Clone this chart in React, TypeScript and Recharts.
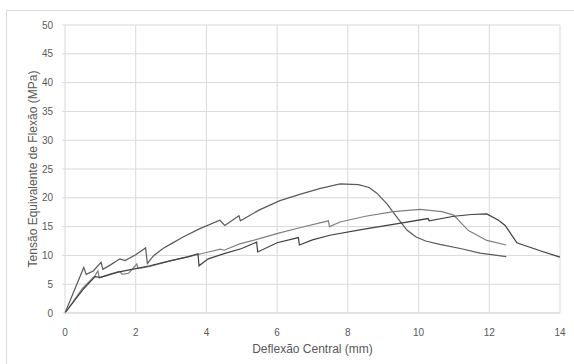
import { LineChart, Line, XAxis, YAxis, CartesianGrid } from "recharts";

// curve 1: highest peak (~22.5 MPa at 8 mm)
const xA = [0, 0.53, 0.6, 0.8, 1.02, 1.07, 1.3, 1.55, 1.7, 2.0, 2.28, 2.33, 2.5, 2.77, 3.0, 3.34, 3.8, 4.38, 4.52, 4.92, 4.96, 5.5, 6.08, 6.64, 7.2, 7.78, 8.3, 8.6, 8.82, 9.1, 9.38, 9.67, 9.93, 10.2, 10.6, 11.18, 11.74, 12.48];
const yA = [0, 7.9, 6.7, 7.3, 8.8, 7.6, 8.4, 9.4, 9.1, 10.1, 11.3, 8.6, 9.9, 11.2, 12.0, 13.2, 14.6, 16.1, 15.2, 16.9, 16.0, 17.9, 19.5, 20.6, 21.6, 22.4, 22.3, 21.8, 20.8, 19.0, 16.7, 14.4, 13.2, 12.5, 11.9, 11.2, 10.4, 9.8];

// curve 2: peak ~18 MPa at 10 mm
const xB = [0, 0.5, 0.85, 0.93, 0.97, 1.3, 1.55, 1.62, 1.8, 2.03, 2.07, 2.4, 3.0, 3.5, 4.0, 4.4, 4.5, 4.94, 5.5, 6.07, 6.64, 7.45, 7.48, 7.78, 8.5, 9.29, 10.04, 10.66, 10.99, 11.41, 11.93, 12.48];
const yB = [0, 4.3, 6.5, 7.3, 6.1, 6.8, 7.2, 6.7, 6.9, 8.5, 7.7, 8.1, 9.1, 9.8, 10.5, 11.1, 10.9, 12.0, 12.9, 13.9, 14.8, 16.0, 15.0, 15.8, 16.8, 17.6, 18.0, 17.6, 17.0, 14.3, 12.6, 11.8];

// curve 3: longest, up to 14 mm
const xC = [0, 0.5, 0.85, 1.0, 1.5, 2.0, 2.4, 3.0, 3.5, 3.76, 3.79, 4.05, 4.5, 5.0, 5.42, 5.45, 6.0, 6.6, 6.63, 7.0, 7.49, 8.5, 9.5, 10.27, 10.3, 11.0, 11.5, 11.93, 12.26, 12.45, 12.78, 12.92, 13.44, 14.0];
const yC = [0, 4.0, 6.3, 6.2, 7.1, 7.7, 8.2, 9.1, 9.8, 10.3, 8.2, 9.4, 10.3, 11.2, 12.3, 10.6, 12.2, 13.1, 11.8, 12.7, 13.5, 14.6, 15.6, 16.4, 16.0, 16.8, 17.1, 17.2, 16.1, 15.2, 12.2, 11.9, 10.8, 9.7];

const xTicks = [0, 2, 4, 6, 8, 10, 12, 14];
const yTicks = [0, 5, 10, 15, 20, 25, 30, 35, 40, 45, 50];

const toPts = (xs: number[], ys: number[]) => xs.map((x, i) => ({ x, y: ys[i] }));

const font = "'Liberation Sans', Arial, sans-serif";
const tickStyle = { fill: "#595959", fontSize: 10, fontFamily: font };

export default function App() {
  return (
    <div style={{ position: "absolute", left: 0, top: 0, width: 574, height: 364, background: "#fff" }}>
      <div style={{ position: "absolute", left: 6, top: 10, width: 570, height: 360, border: "1px solid #d9d9d9" }} />
      <LineChart width={574} height={364} margin={{ top: 25, right: 14, left: 0, bottom: 6 }} style={{ position: "absolute", left: 0, top: 0 }}>
        <CartesianGrid stroke="#d9d9d9" />
        <XAxis
          dataKey="x"
          type="number"
          domain={[0, 14]}
          ticks={xTicks}
          height={45}
          stroke="#d9d9d9"
          tickLine={false}
          tickMargin={10}
          tick={tickStyle}
          label={{ value: "Deflexão Central (mm)", position: "insideBottom", offset: 5, fill: "#595959", fontSize: 12, fontFamily: font }}
        />
        <YAxis
          type="number"
          domain={[0, 50]}
          ticks={yTicks}
          width={65}
          axisLine={false}
          tickLine={{ stroke: "#d9d9d9" }}
          tickSize={3}
          tickMargin={9}
          tick={tickStyle}
          label={{ value: "Tensão Equivalente de Flexão (MPa)", angle: -90, position: "center", fill: "#595959", fontSize: 12, fontFamily: font }}
        />
        <Line data={toPts(xA, yA)} dataKey="y" type="linear" stroke="#5a5a5a" strokeWidth={1.2} dot={false} isAnimationActive={false} />
        <Line data={toPts(xB, yB)} dataKey="y" type="linear" stroke="#7f7f7f" strokeWidth={1.2} dot={false} isAnimationActive={false} />
        <Line data={toPts(xC, yC)} dataKey="y" type="linear" stroke="#404040" strokeWidth={1.2} dot={false} isAnimationActive={false} />
      </LineChart>
    </div>
  );
}
